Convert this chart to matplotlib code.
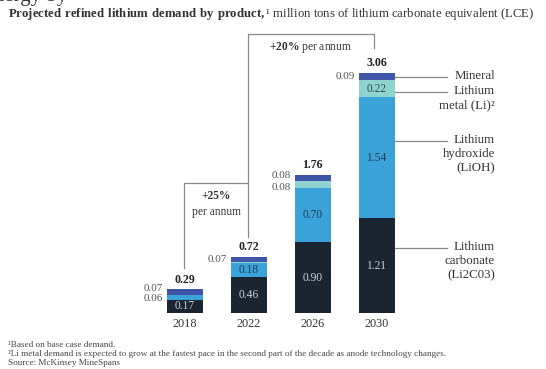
import matplotlib.pyplot as plt
import numpy as np

plt.rcParams['font.family'] = ['Liberation Serif', 'DejaVu Serif']
plt.rcParams['mathtext.fontset'] = 'custom'
plt.rcParams['mathtext.rm'] = 'Liberation Serif'
plt.rcParams['mathtext.bf'] = 'Liberation Serif:bold'

years = ['2018', '2022', '2026', '2030']
carbonate = [0.17, 0.46, 0.90, 1.21]
hydroxide = [0.06, 0.18, 0.70, 1.54]
metal = [0.00, 0.01, 0.08, 0.22]
mineral = [0.07, 0.07, 0.08, 0.09]
totals = [0.29, 0.72, 1.76, 3.06]

series = [carbonate, hydroxide, metal, mineral]
colors = ['#1b2532', '#3ba3d9', '#8fd5cf', '#3f55a8']
text_colors = ['#c9ced6', '#1e3a5a', '#2a4a5a', '#ffffff']
names = ['Lithium\ncarbonate\n(Li2C03)', 'Lithium\nhydroxide\n(LiOH)',
         'Lithium\nmetal (Li)²', 'Mineral']

W, H = 546, 369
fig = plt.figure(figsize=(W / 100, H / 100), dpi=100)

# axes placed in pixels: baseline at y=313, 78.4 px per unit, bars 64 px apart
px_unit = 78.4
x0, step = 184.5, 64.0
left_px, right_px, top_px, base_px = 120, 520, 30, 313
ax = fig.add_axes([left_px / W, (H - base_px) / H,
                   (right_px - left_px) / W, (base_px - top_px) / H])
ax.set_xlim((left_px - x0) / step, (right_px - x0) / step)
ax.set_ylim(0, (base_px - top_px) / px_unit)
ax.axis('off')


def px2x(px):
    return (px - x0) / step


def px2y(py):
    return (base_px - py) / px_unit


x = np.arange(len(years))
width = 36 / step
bottom = np.zeros(len(years))
for vals, c, tc in zip(series, colors, text_colors):
    vals = np.array(vals)
    ax.bar(x, vals, width, bottom=bottom, color=c, linewidth=0)
    for i, v in enumerate(vals):
        if v >= 0.15:
            ax.text(x[i], bottom[i] + v / 2, f'{v:.2f}', ha='center', va='center',
                    fontsize=8.3, color=tc)
    bottom += vals

# small segments labelled to the left of the bar
side = {0: [(hydroxide[0], 0.2 - 0.015), (mineral[0], 0.265 + 0.05)],
        1: [(mineral[1], 0.68)],
        2: [(metal[2], 1.64 - 0.04), (mineral[2], 1.72 + 0.03)],
        3: [(mineral[3], 3.015)]}
for i, labels in side.items():
    for v, yy in labels:
        ax.text(x[i] - width / 2 - 0.06, yy, f'{v:.2f}', ha='right', va='center',
                fontsize=8, color='#555555')

for i, t in enumerate(totals):
    ax.text(x[i], bottom[i] + 0.05, f'{t:.2f}', ha='center', va='bottom',
            fontsize=8.6, fontweight='bold', color='#222222')
    ax.text(x[i], -0.06, years[i], ha='center', va='top', fontsize=8.8,
            color='#333333')

# growth brackets
lc = '#888888'
kw = dict(color=lc, lw=0.9, clip_on=False)
ax.plot([px2x(184), px2x(184), px2x(248), px2x(248)],
        [px2y(268), px2y(183), px2y(183), px2y(237)], **kw)
ax.plot([px2x(248), px2x(248), px2x(374), px2x(374)],
        [px2y(183), px2y(34), px2y(34), px2y(48)], **kw)
ax.text(px2x(216), px2y(196), '+25%', ha='center', va='center', fontsize=8.3,
        fontweight='bold', color='#333333')
ax.text(px2x(216), px2y(212), 'per annum', ha='center', va='center', fontsize=8.3,
        color='#333333')
ax.text(px2x(311), px2y(47), r'$\mathbf{+20\%}$ per annum', ha='center',
        va='center', fontsize=8.3, color='#333333')

# legend call-outs on the right of the last bar
callout_y = [248, 141, 92, 77]
for name, py in zip(names, callout_y):
    ax.plot([px2x(395), px2x(447)], [px2y(py), px2y(py)], **kw)
    ax.text(px2x(495), px2y(py) + 0.09, name, ha='right', va='top', fontsize=9.3,
            color='#333333', linespacing=1.25)

fig.text(67 / W, 1 + 4 / H, 'Energy by', ha='right', va='center', fontsize=15,
         color='#333333')
fig.text(8 / W, 1 - 14 / H,
         r'$\mathbf{Projected\ refined\ lithium\ demand\ by\ product,}$'
         '¹ million tons of lithium carbonate equivalent (LCE)',
         ha='left', va='center', fontsize=9.2, color='#333333')

foot = ['¹Based on base case demand.',
        '²Li metal demand is expected to grow at the fastest pace in the '
        'second part of the decade as anode technology changes.',
        'Source: McKinsey MineSpans']
for k, line in enumerate(foot):
    fig.text(8 / W, 1 - (345 + 9 * k) / H, line, ha='left', va='center',
             fontsize=6.6, color='#444444')

fig.savefig('out.png', dpi=100)
